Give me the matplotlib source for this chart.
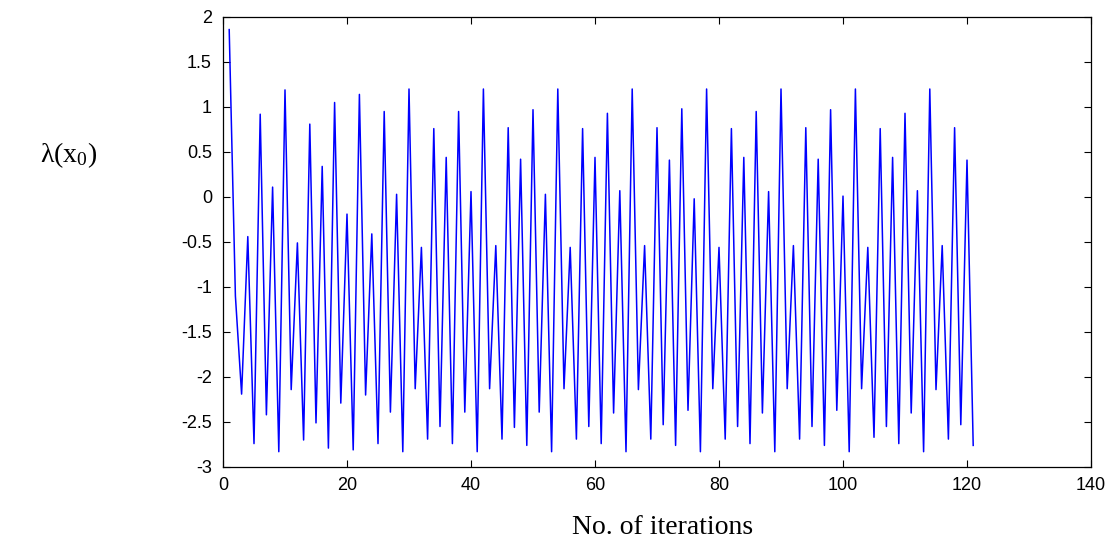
import matplotlib

matplotlib.use("Agg")
import matplotlib.pyplot as plt

plt.rcParams["mathtext.fontset"] = "custom"
plt.rcParams["mathtext.rm"] = "Liberation Serif"
plt.rcParams["mathtext.it"] = "Liberation Serif:italic"

# iteration index and lambda(x0) values
iterations = list(range(1, 122))
lam = [
    1.86, -1.10, -2.19, -0.44, -2.74, 0.92, -2.42, 0.11, -2.83, 1.19,
    -2.14, -0.51, -2.70, 0.81, -2.51, 0.34, -2.79, 1.05, -2.29, -0.19,
    -2.81, 1.14, -2.20, -0.41, -2.74, 0.95, -2.39, 0.03, -2.83, 1.20,
    -2.13, -0.56, -2.69, 0.76, -2.55, 0.44, -2.74, 0.95, -2.39, 0.06,
    -2.83, 1.20, -2.13, -0.54, -2.69, 0.77, -2.56, 0.42, -2.76, 0.97,
    -2.39, 0.03, -2.83, 1.20, -2.13, -0.56, -2.69, 0.76, -2.55, 0.44,
    -2.74, 0.93, -2.40, 0.07, -2.83, 1.20, -2.14, -0.54, -2.69, 0.77,
    -2.53, 0.41, -2.76, 0.98, -2.37, -0.02, -2.83, 1.20, -2.13, -0.56,
    -2.69, 0.76, -2.55, 0.44, -2.74, 0.95, -2.40, 0.06, -2.83, 1.20,
    -2.13, -0.54, -2.69, 0.77, -2.55, 0.42, -2.76, 0.97, -2.37, 0.01,
    -2.83, 1.20, -2.13, -0.56, -2.67, 0.76, -2.55, 0.44, -2.74, 0.93,
    -2.40, 0.07, -2.83, 1.20, -2.14, -0.54, -2.69, 0.77, -2.53, 0.41,
    -2.76,
]
x_ticks = [0, 20, 40, 60, 80, 100, 120, 140]
y_ticks = [-3, -2.5, -2, -1.5, -1, -0.5, 0, 0.5, 1, 1.5, 2]
y_tick_labels = ["-3", "-2.5", "-2", "-1.5", "-1", "-0.5", "0", "0.5", "1", "1.5", "2"]

W, H = 1116, 546
fig = plt.figure(figsize=(W / 100, H / 100), dpi=100)
left, right, top, bottom = 223, 1091, 17, 467
ax = fig.add_axes([left / W, 1 - bottom / H, (right - left) / W, (bottom - top) / H])

ax.plot(iterations, lam, color="#0000ff", linewidth=1.1)

ax.set_xlim(0, 140)
ax.set_ylim(-3, 2)
ax.set_xticks(x_ticks)
ax.set_xticklabels([str(t) for t in x_ticks])
ax.set_yticks(y_ticks)
ax.set_yticklabels(y_tick_labels)
ax.tick_params(direction="in", length=5, width=0.8, top=True, right=True,
               labelsize=13)
ax.tick_params(axis="x", pad=7)
ax.tick_params(axis="y", pad=8)
for lbl in ax.get_xticklabels() + ax.get_yticklabels():
    lbl.set_fontfamily("Liberation Sans")
for sp in ax.spines.values():
    sp.set_linewidth(0.9)

fig.text(663 / W, 1 - 527 / H, "No. of iterations", ha="center", va="center",
         fontsize=20, family="Liberation Serif")
fig.text(69 / W, 1 - 155 / H, r"λ(x$_0$)", ha="center", va="center",
         fontsize=20, family="Liberation Serif")

fig.savefig("out.png", dpi=100)
